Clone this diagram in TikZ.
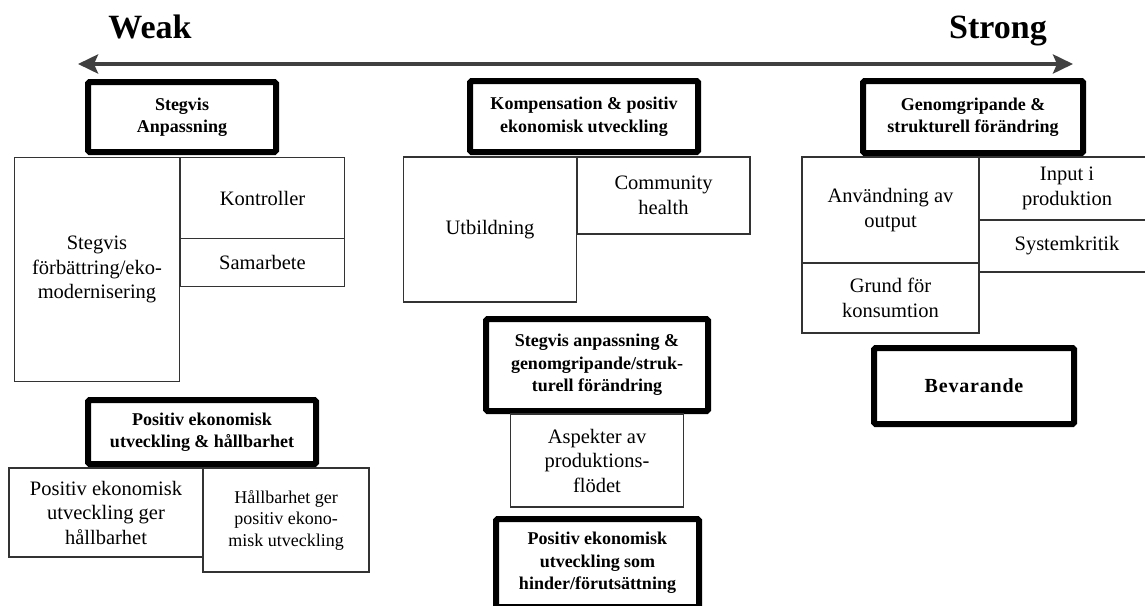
\documentclass[tikz,border=0pt]{standalone}
\usepackage{fontspec}
\setmainfont{Liberation Serif}
\usetikzlibrary{positioning,arrows.meta}

\begin{document}
\begin{tikzpicture}[x=1pt,y=-1pt,>={Stealth[length=20pt,width=19pt,inset=4pt]},
                    semithick]
  \tikzstyle{bigbox}=[draw=black,line width=6pt,rounded corners=1.5pt,fill=white,
                      align=center,inner sep=2pt,font=\bfseries\fontsize{18}{22.5}\selectfont]
  \tikzstyle{smallbox}=[draw=black!80,line width=1.3pt,outer sep=0pt,fill=white,
                        align=center,inner sep=2pt,font=\fontsize{20.5}{24.5}\selectfont]
  \tikzstyle{endlabel}=[anchor=base,font=\bfseries\fontsize{34}{40}\selectfont]

  \useasboundingbox (0,0) rectangle (1145,605);
  \clip (0,0) rectangle (1145,605);

	% scale
	\node[endlabel]	(weak)	at (150,38)	{Weak};
	\node[endlabel]	(strong)	at (998,38)	{Strong};
	\coordinate (l) at (78,64);
	\coordinate (r) at (1073,64);
	\draw[<->, line width=4pt, draw=black!75] (l) -- (r);

	% left column
	\node[bigbox, minimum width=188, minimum height=70]	(0) at (182,117)	{Stegvis\\Anpassning};
	\node[smallbox, minimum width=165, minimum height=224]	(1) at (97,269.5)	{Stegvis\\förbättring/eko-\\modernisering};
	\node[smallbox, minimum width=164, minimum height=81]	(2) at (262.5,198)	{Kontroller};
	\node[smallbox, minimum width=164, minimum height=48]	(3) [below=0pt of 2]	{Samarbete};
	\node[bigbox, minimum width=228, minimum height=64]	(13) at (202,432)	{Positiv ekonomisk\\utveckling \& hållbarhet};
	\node[smallbox, minimum width=194, minimum height=89]	(14) at (106,512.5)	{Positiv ekonomisk\\utveckling ger\\hållbarhet};
	\node[smallbox, minimum width=166, minimum height=104, font=\fontsize{18}{21.5}\selectfont]
						(15) at (286,520)	{Hållbarhet ger\\positiv ekono-\\misk utveckling};

	% middle column
	\node[bigbox, minimum width=228, minimum height=71]	(4) at (584,116.5)	{Kompensation \& positiv\\ekonomisk utveckling};
	\node[smallbox, minimum width=173, minimum height=145]	(5) at (490,229.5)	{Utbildning};
	\node[smallbox, minimum width=173, minimum height=77]	(6) at (663.5,195.5)	{Community\\health};
	\node[bigbox, minimum width=222, minimum height=92]	(16) at (597,365)	{Stegvis anpassning \&\\genomgripande/struk-\\turell förändring};
	\node[smallbox, minimum width=173, minimum height=93]	(17) [below=0pt of 16]	{Aspekter av\\produktions-\\flödet};
	\node[bigbox, minimum width=203, minimum height=88]	(18) at (597.5,563)	{Positiv ekonomisk\\utveckling som\\hinder/förutsättning};

	% right column
	\node[bigbox, minimum width=220, minimum height=72]	(7) at (973,117)	{Genomgripande \&\\strukturell förändring};
	\node[smallbox, minimum width=177, minimum height=106]	(8) at (890.5,210)	{Användning av\\output};
	\node[smallbox, minimum width=177, minimum height=70]	(9) [below=0pt of 8]	{Grund för\\konsumtion};
	\node[smallbox, minimum width=176, minimum height=63]	(10) at (1067,188.5)	{Input i\\produktion};
	\node[smallbox, minimum width=176, minimum height=52]	(11) [below=0pt of 10]	{Systemkritik};
	\node[bigbox, minimum width=200, minimum height=76, font=\bfseries\fontsize{20}{24}\selectfont]
						(12) at (974,386)	{\addfontfeature{LetterSpace=4}Bevarande};

\end{tikzpicture}
\end{document}
